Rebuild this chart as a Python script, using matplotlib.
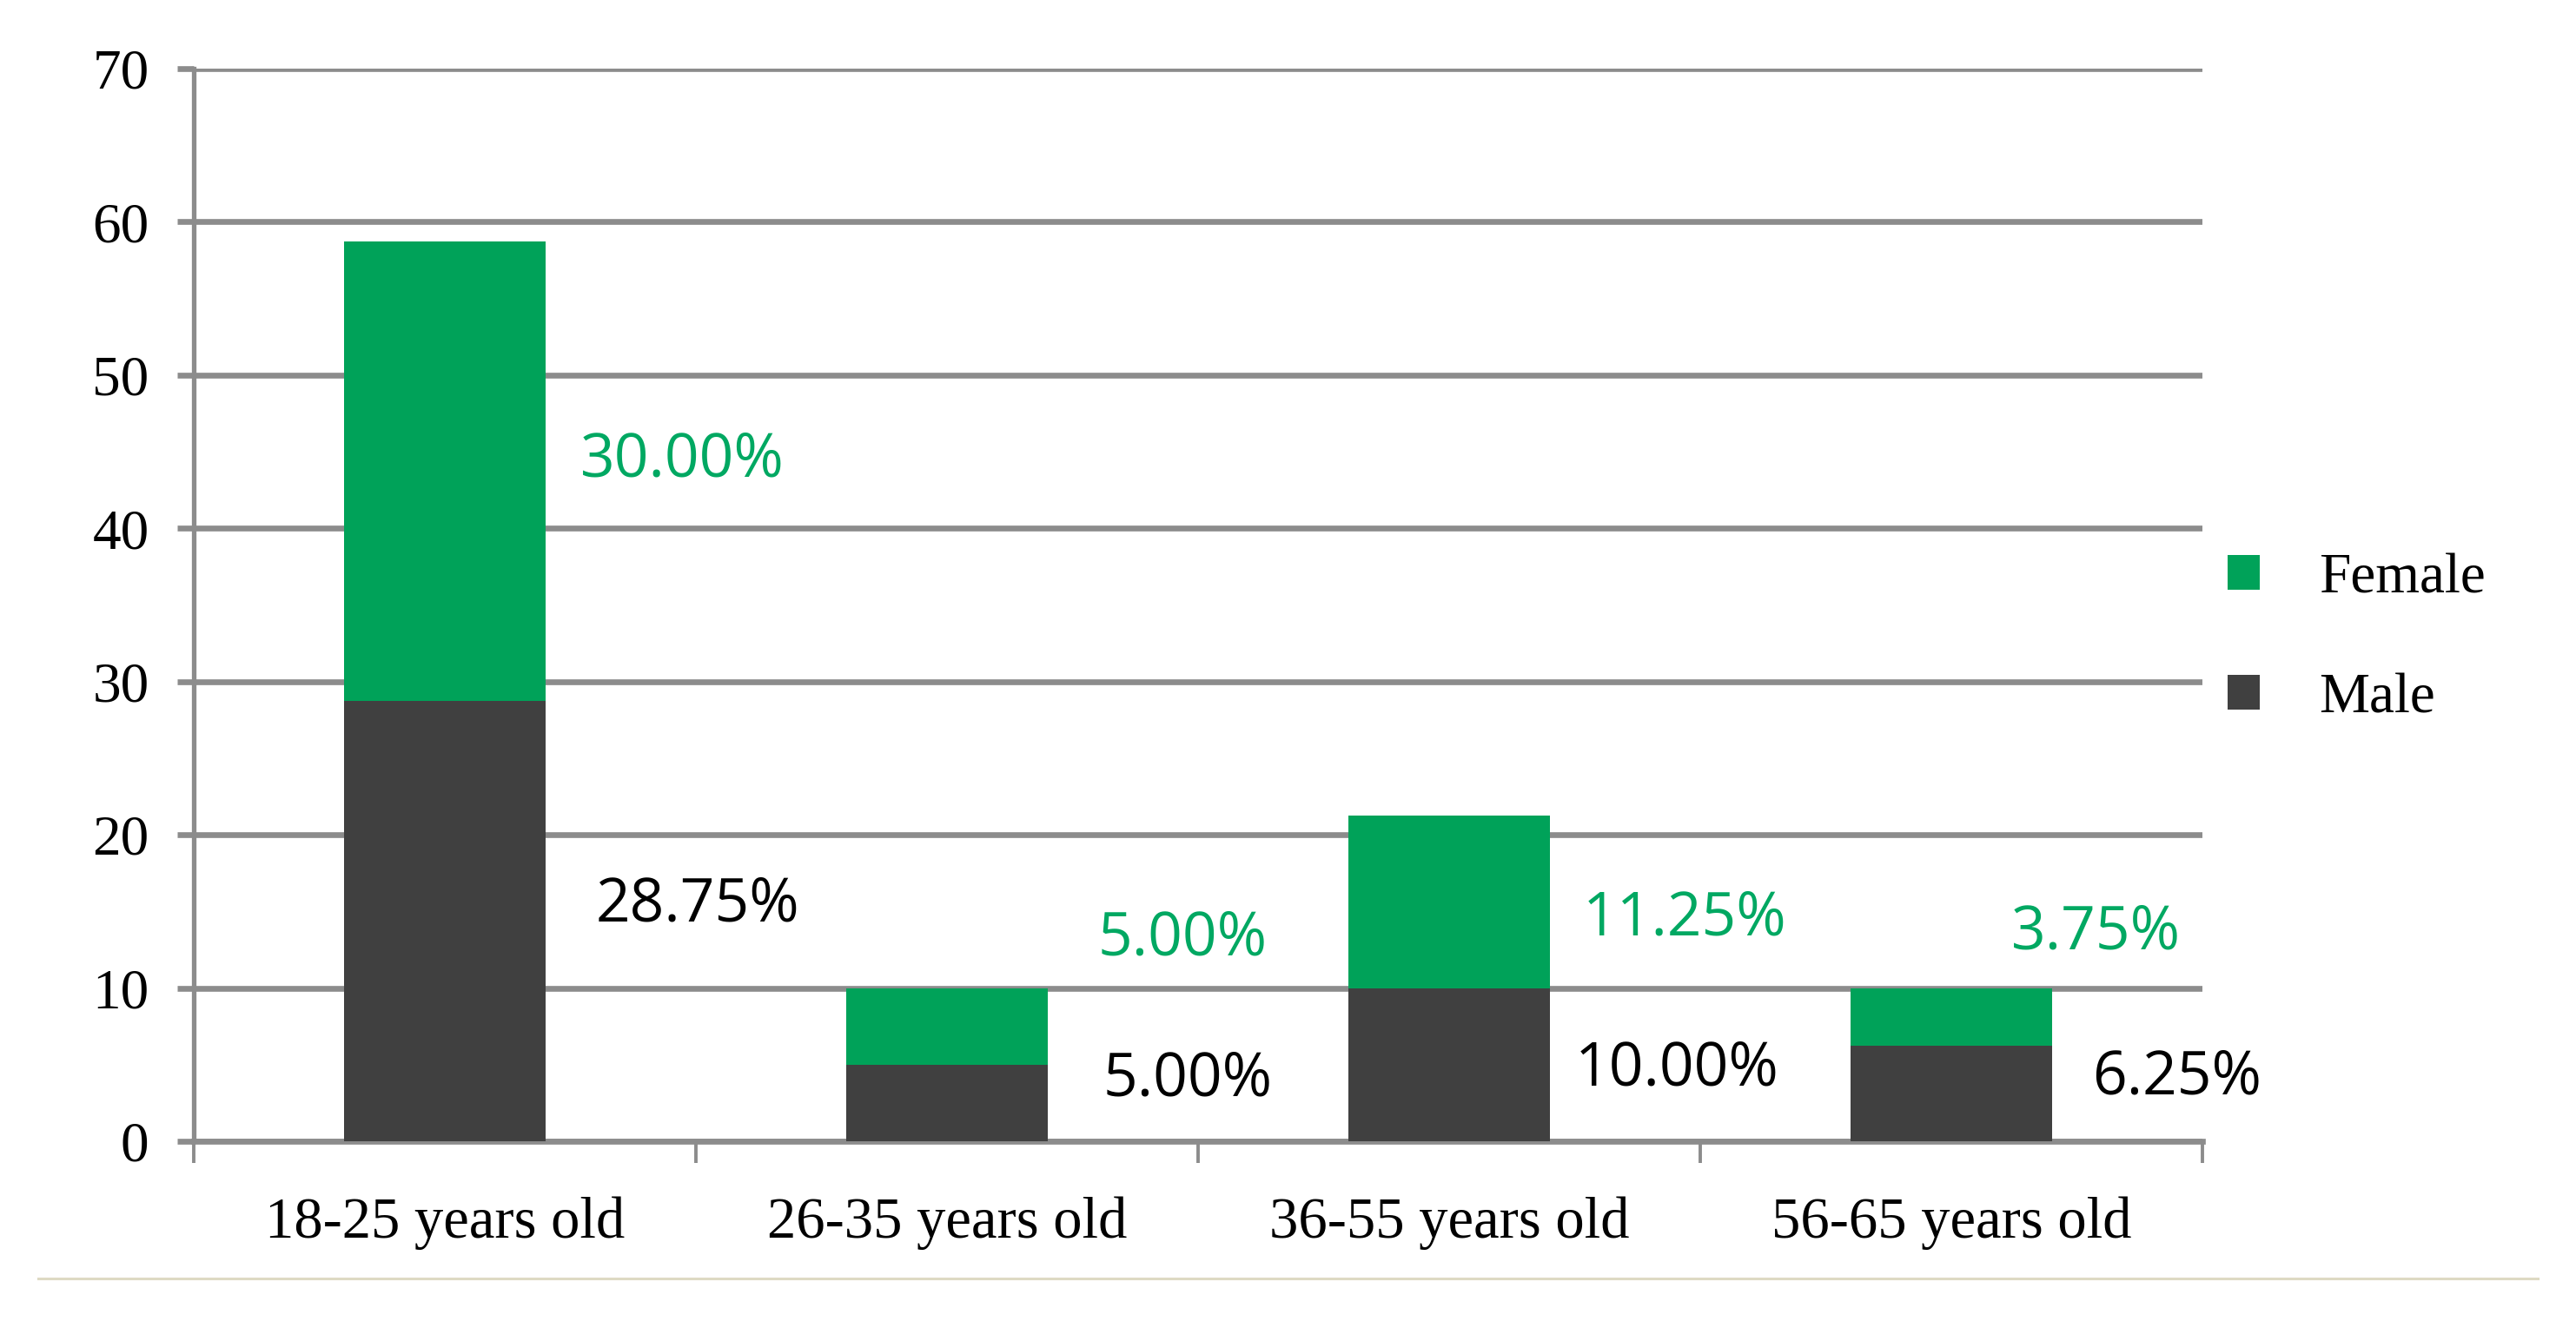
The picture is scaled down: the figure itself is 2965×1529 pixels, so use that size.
import matplotlib

matplotlib.use("Agg")

import matplotlib.pyplot as plt
import numpy as np
from matplotlib.lines import Line2D
from matplotlib.patches import Patch

# data
categories = ["18-25 years old", "26-35 years old", "36-55 years old", "56-65 years old"]
male = [28.75, 5.00, 10.00, 6.25]
female = [30.00, 5.00, 11.25, 3.75]
yticks = [0, 10, 20, 30, 40, 50, 60, 70]

# label placement (offset from category centre, y in data units)
male_lbl_dx = [0.30, 0.31, 0.25, 0.28]
male_lbl_y = [15.4, 4.0, 4.7, 4.1]
female_lbl_dx = [0.27, 0.30, 0.265, 0.12]
female_lbl_y = [44.4, 13.2, 14.5, 13.6]

GREEN = "#00A259"
GREEN_TXT = "#00A862"
DARK = "#404040"
GRID = "#8C8C8C"
SERIF = ["Liberation Serif", "DejaVu Serif"]
SANS = ["Open Sans", "DejaVu Sans"]


def main():
    fig = plt.figure(figsize=(29.65, 15.29), dpi=100, facecolor="white")
    ax = fig.add_axes([0.0752, 0.1406, 0.855 - 0.0752, 0.9483 - 0.1406])

    x = np.arange(len(categories))
    ax.bar(x, male, width=0.4, color=DARK, zorder=3, label="Male")
    ax.bar(x, female, width=0.4, bottom=male, color=GREEN, zorder=3, label="Female")

    for i in range(len(categories)):
        ax.text(x[i] + female_lbl_dx[i], female_lbl_y[i], f"{female[i]:.2f}%",
                color=GREEN_TXT, fontsize=50, family=SANS, ha="left", va="center")
        ax.text(x[i] + male_lbl_dx[i], male_lbl_y[i], f"{male[i]:.2f}%",
                color="black", fontsize=50, family=SANS, ha="left", va="center")

    ax.set_xlim(-0.5, len(categories) - 0.5)
    ax.set_ylim(0, 70)
    ax.set_yticks(yticks)
    ax.set_yticklabels([str(v) for v in yticks], family=SERIF, fontsize=47)
    ax.yaxis.grid(True, color=GRID, linewidth=4.8, zorder=0)
    ax.tick_params(axis="y", length=14, width=4.8, color=GRID, pad=23)

    ax.set_xticks(np.arange(len(categories) + 1) - 0.5)
    ax.set_xticklabels([])
    ax.tick_params(axis="x", which="major", length=18, width=2.8, color=GRID)
    ax.set_xticks(x, minor=True)
    ax.set_xticklabels(categories, minor=True, family=SERIF, fontsize=48)
    ax.tick_params(axis="x", which="minor", length=0, pad=46)

    for s in ("top", "right"):
        ax.spines[s].set_visible(False)
    ax.spines["left"].set_color(GRID)
    ax.spines["left"].set_linewidth(3.8)
    ax.spines["bottom"].set_color(GRID)
    ax.spines["bottom"].set_linewidth(4.8)

    handles = [
        Patch(facecolor=GREEN, edgecolor="none", label="Female"),
        Patch(facecolor=DARK, edgecolor="none", label="Male"),
    ]
    fig.legend(
        handles=handles,
        loc="center left",
        bbox_to_anchor=(0.8538, 0.519),
        frameon=False,
        prop={"family": SERIF, "size": 47},
        handlelength=0.56,
        handleheight=0.56,
        handletextpad=1.05,
        labelspacing=1.2,
        borderpad=0,
    )

    fig.add_artist(Line2D([0.015, 0.985], [0.0375, 0.0375], transform=fig.transFigure,
                          color="#DEDAC4", linewidth=2.2))

    fig.savefig("out.png", dpi=100, facecolor="white")
    plt.close(fig)


if __name__ == "__main__":
    main()
